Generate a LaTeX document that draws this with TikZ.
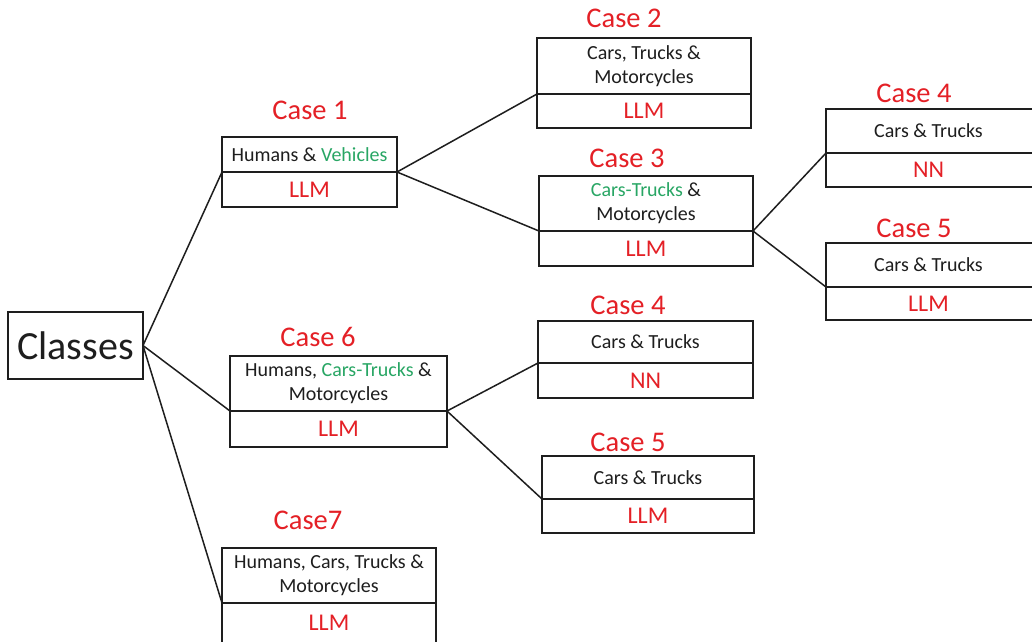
\documentclass[tikz,border=0pt]{standalone}
\usepackage{fontspec}
\setmainfont{Carlito}
\definecolor{casered}{RGB}{228,32,38}
\definecolor{leafgreen}{RGB}{40,166,100}
\definecolor{inkgray}{RGB}{30,30,30}
\begin{document}
\begin{tikzpicture}[x=1pt,y=-1pt,
  cell/.style={draw=inkgray,line width=1.6pt,inner sep=0pt,outer sep=0pt,anchor=north west,
    align=center,text=inkgray,font=\fontsize{20}{24}\selectfont},
  method/.style={cell,text=casered,font=\fontsize{24}{26}\selectfont},
  casetitle/.style={inner sep=0pt,text=casered,font=\fontsize{28.5}{30}\selectfont},
  link/.style={draw=inkgray,line width=1.5pt}]
\clip (0,0) rectangle (1032,641);
\fill[white] (0,0) rectangle (1032,641);
\newcommand{\grn}[1]{\textcolor{leafgreen}{#1}}

% root
\node[cell,minimum width=135pt,minimum height=67pt,font=\fontsize{40}{42}\selectfont] (root) at (8,312) {Classes};

% case 1
\node[casetitle] (t1) at (310,110) {Case 1};
\node[cell,minimum width=175pt,minimum height=35pt] (c1t) at (222,137) {Humans \& \grn{Vehicles}};
\node[method,minimum width=175pt,minimum height=35pt] (c1b) at (c1t.south west) {LLM};

% case 2
\node[casetitle] (t2) at (624,18) {Case 2};
\node[cell,minimum width=214pt,minimum height=56pt] (c2t) at (537,38) {Cars, Trucks \&\\Motorcycles};
\node[method,minimum width=214pt,minimum height=34pt] (c2b) at (c2t.south west) {LLM};

% case 3
\node[casetitle] (t3) at (627,158) {Case 3};
\node[cell,minimum width=214pt,minimum height=55pt] (c3t) at (539,176) {\grn{Cars-Trucks} \&\\Motorcycles};
\node[method,minimum width=214pt,minimum height=35pt] (c3b) at (c3t.south west) {LLM};

% case 4 (after case 3)
\node[casetitle] (t4a) at (914,93) {Case 4};
\node[cell,minimum width=208pt,minimum height=44pt] (c4at) at (826,109) {\hspace*{-3pt}Cars \& Trucks};
\node[method,minimum width=208pt,minimum height=34pt] (c4ab) at (c4at.south west) {\hspace*{-3pt}NN};

% case 5 (after case 3)
\node[casetitle] (t5a) at (914,228) {Case 5};
\node[cell,minimum width=208pt,minimum height=44pt] (c5at) at (826,243) {\hspace*{-3pt}Cars \& Trucks};
\node[method,minimum width=208pt,minimum height=33pt] (c5ab) at (c5at.south west) {\hspace*{-3pt}LLM};

% case 6
\node[casetitle] (t6) at (318,337) {Case 6};
\node[cell,minimum width=217pt,minimum height=55pt] (c6t) at (230,356) {Humans, \grn{Cars-Trucks} \&\\Motorcycles};
\node[method,minimum width=217pt,minimum height=36pt] (c6b) at (c6t.south west) {LLM};

% case 4 (after case 6)
\node[casetitle] (t4b) at (628,305) {Case 4};
\node[cell,minimum width=215pt,minimum height=42pt] (c4bt) at (538,321) {Cars \& Trucks};
\node[method,minimum width=215pt,minimum height=35pt] (c4bb) at (c4bt.south west) {NN};

% case 5 (after case 6)
\node[casetitle] (t5b) at (628,442) {Case 5};
\node[cell,minimum width=212pt,minimum height=43pt] (c5bt) at (542,456) {Cars \& Trucks};
\node[method,minimum width=212pt,minimum height=34pt] (c5bb) at (c5bt.south west) {LLM};

% case 7
\node[casetitle] (t7) at (308,520) {Case7};
\node[cell,minimum width=214pt,minimum height=55pt] (c7t) at (222,548) {Humans, Cars, Trucks \&\\Motorcycles};
\node[method,minimum width=214pt,minimum height=40pt] (c7b) at (c7t.south west) {LLM};

% tree edges, joined at the divider of each box
\draw[link] (root.east) -- (c1t.south west);
\draw[link] (root.east) -- (c6t.south west);
\draw[link] (root.east) -- (c7t.south west);
\draw[link] (c1t.south east) -- (c2t.south west);
\draw[link] (c1t.south east) -- (c3t.south west);
\draw[link] (c3t.south east) -- (c4at.south west);
\draw[link] (c3t.south east) -- (c5at.south west);
\draw[link] (c6t.south east) -- (c4bt.south west);
\draw[link] (c6t.south east) -- (c5bt.south west);
\end{tikzpicture}
\end{document}
